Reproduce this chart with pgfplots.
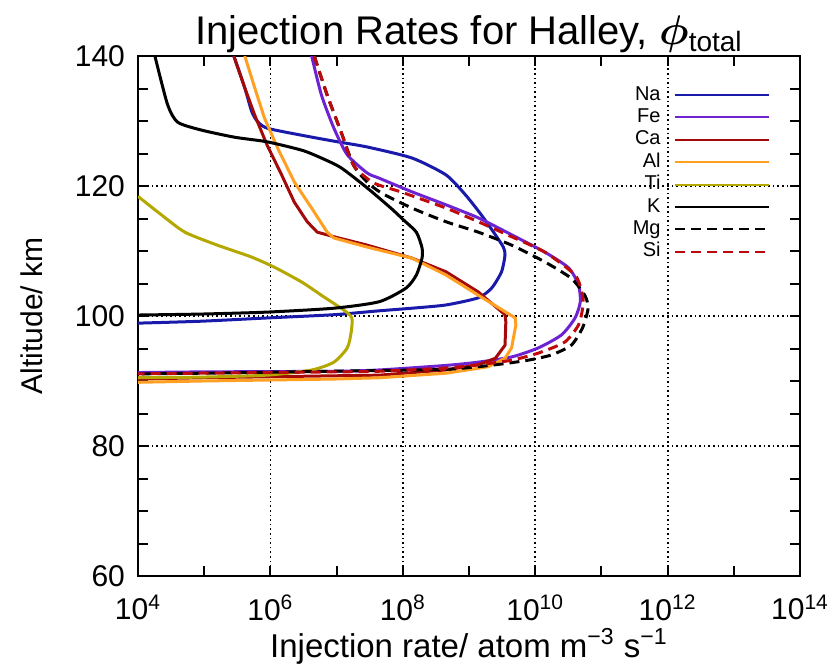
\documentclass[border=0pt]{standalone}
\usepackage{fontspec}
\setmainfont{Liberation Sans}
\usepackage{bm}
\usepackage{pgfplots}
\pgfplotsset{compat=1.18}

\definecolor{naBlue}{RGB}{25,25,170}
\definecolor{fePurple}{RGB}{110,35,210}
\definecolor{caRed}{RGB}{165,10,10}
\definecolor{alOrange}{RGB}{255,160,35}
\definecolor{tiOlive}{RGB}{180,168,0}
\definecolor{siRed}{RGB}{190,10,10}

\begin{document}
\begin{tikzpicture}
\path[use as bounding box] (-69pt,-47pt) rectangle (351pt,288pt);
\begin{axis}[
  at={(0,0)}, anchor=south west,
  scale only axis, width=331pt, height=260pt,
  xmode=log, xmin=1e4, xmax=1e14, ymin=60, ymax=140,
  xtick={1e4,1e6,1e8,1e10,1e12,1e14},
  xticklabels={10\textsuperscript{4},10\textsuperscript{6},10\textsuperscript{8},10\textsuperscript{10},10\textsuperscript{12},10\textsuperscript{14}},
  minor xtick={1e5,1e7,1e9,1e11,1e13},
  ytick={60,80,100,120,140},
  yticklabels={60,80,100,120,140},
  minor y tick num=3,
  xmajorgrids, ymajorgrids,
  grid style={black, line width=0.9pt, dash pattern=on 0.8pt off 1.5pt},
  axis line style={line width=1.2pt},
  tick style={black, line width=1pt},
  major tick length=5pt, minor tick length=5pt,
  tick label style={font=\fontsize{15}{18}\selectfont},
  yticklabel style={xshift=-3pt},
  xticklabel style={yshift=-6pt},
  legend plot pos=right,
  legend cell align=right,
  legend image code/.code={\draw[#1, line width=1pt] (0pt,0pt) -- (47pt,0pt);},
  legend style={draw=none, fill=none, at={(0.964,0.955)}, anchor=north east,
    font=\fontsize{10}{12}\selectfont, row sep=0pt,
    nodes={inner sep=0.6pt, text height=7.5pt, text depth=2.5pt},
    /tikz/every odd column/.append style={column sep=6pt}},
  every axis plot/.append style={line width=1.5pt, line join=round},
]
% Na
\addplot[naBlue, smooth, tension=0.4] coordinates {
 (2.8e5,140) (4.1e5,135.1) (5.2e5,131.5) (6.3e5,130.0) (8.9e5,128.9) (3.0e6,127.8)
 (9.1e6,126.9) (2.9e7,126.0) (1.38e8,124.3) (4.5e8,121.7) (8.9e8,118.6) (1.55e9,115.5)
 (2.5e9,112.5) (3.3e9,110.6) (3.5e9,109.4) (3.1e9,106.8) (2.2e9,104.3) (1.38e9,102.8)
 (4.5e8,101.7) (1.38e8,101.2) (4.4e7,100.8) (9.1e6,100.2) (8.9e5,99.7) (9.1e4,99.2) (1e4,98.9)
};
\addlegendentry{Na}
% Fe
\addplot[fePurple, smooth, tension=0.4] coordinates {
 (4.2e6,140) (5.9e6,134.0) (9.1e6,128.9) (1.45e7,124.8) (2.9e7,122.0) (4.4e7,121.2)
 (1.38e8,119.1) (4.5e8,117.1) (1.38e9,115.1) (4.4e9,112.5) (1.41e10,109.8) (3.2e10,107.4)
 (4.5e10,104.8) (4.8e10,102.2) (4.0e10,99.7) (2.5e10,97.1) (1.12e10,95.1) (4.4e9,93.7)
 (1.38e9,92.9) (4.5e8,92.4) (4.4e7,91.7) (9.1e6,91.5) (9.1e4,91.4) (1e4,91.3)
};
\addlegendentry{Fe}
% Ca
\addplot[caRed] coordinates {
 (2.8e5,140) (4.1e5,135.1) (5.8e5,130.9) (8.9e5,126.3) (1.48e6,121.7) (2.3e6,117.5)
 (3.6e6,114.5) (5.1e6,112.9) (9.1e6,112.2) (2.9e7,110.9) (1.38e8,108.9) (4.5e8,106.8)
 (1.38e9,103.7) (3.5e9,100.2) (3.6e9,99.1) (3.5e9,95.5) (2.5e9,93.5) (1.38e9,92.5)
 (4.5e8,91.7) (4.4e7,90.9) (9.1e6,90.8) (9.1e4,90.5) (1e4,90.3)
};
\addlegendentry{Ca}
% Al
\addplot[alOrange] coordinates {
 (4.1e5,140) (5.8e5,135.1) (8.1e5,130.5) (1.29e6,125.8) (2.3e6,120.6) (4.2e6,116.6)
 (7.2e6,112.9) (9.1e6,112.0) (2.9e7,110.6) (1.38e8,108.9) (4.5e8,106.3) (1.38e9,103.2)
 (5.0e9,99.7) (5.1e9,98.6) (4.4e9,95.1) (3.5e9,93.5) (1.95e9,92.2) (4.5e8,91.2)
 (4.4e7,90.5) (9.1e6,90.3) (9.1e4,90.0) (1e4,89.8)
};
\addlegendentry{Al}
% Ti
\addplot[tiOlive, smooth, tension=0.4] coordinates {
 (1e4,118.4) (2.3e4,115.5) (5.1e4,112.9) (1.58e5,110.9) (5.1e5,109.1) (1.15e6,107.5)
 (3.0e6,105.2) (6.5e6,102.9) (1.29e7,100.9) (1.7e7,99.7) (1.66e7,97.5) (1.45e7,95.1)
 (9.1e6,92.9) (4.2e6,91.7) (8.9e5,90.9) (9.1e4,90.6) (1e4,90.5)
};
\addlegendentry{Ti}
% K
\addplot[black, smooth, tension=0.4] coordinates {
 (1.8e4,140) (2.8e4,132.5) (4.0e4,129.8) (9.1e4,128.6) (2.9e5,127.5) (8.9e5,126.8)
 (3.0e6,125.5) (5.9e6,124.3) (1.17e7,122.8) (2.9e7,119.7) (6.6e7,116.6) (1.02e8,114.8)
 (1.6e8,112.9) (1.95e8,110.5) (1.95e8,108.9) (1.6e8,106.3) (1.12e8,104.3) (4.4e7,102.2)
 (9.1e6,101.2) (8.9e5,100.6) (9.1e4,100.3) (1e4,100.15)
};
\addlegendentry{K}
% Mg
\addplot[black, dash pattern=on 5pt off 3pt, smooth, tension=0.4] coordinates {
 (4.6e6,140) (7.2e6,134.0) (1.17e7,128.3) (1.8e7,123.2) (2.9e7,120.6) (4.8e7,118.9)
 (1.38e8,116.6) (4.5e8,114.5) (1.38e9,112.9) (4.4e9,110.9) (1.41e10,108.3) (3.5e10,105.8)
 (5.6e10,103.2) (6.3e10,101.2) (5.2e10,98.2) (3.5e10,95.5) (1.74e10,94.0) (7.8e9,93.2)
 (2.5e9,92.5) (4.5e8,91.8) (9.1e6,91.5) (9.1e4,91.2) (1e4,91.1)
};
\addlegendentry{Mg}
% Si
\addplot[siRed, dash pattern=on 5pt off 3pt, smooth, tension=0.4] coordinates {
 (4.6e6,140) (7.2e6,134.0) (1.17e7,128.3) (1.8e7,123.2) (3.6e7,120.5) (9.3e7,119.1)
 (4.5e8,116.6) (1.38e9,114.5) (4.4e9,112.2) (1.41e10,109.8) (4.0e10,106.3) (5.2e10,103.2)
 (5.2e10,101.2) (4.5e10,98.6) (2.8e10,96.0) (1.12e10,94.3) (4.4e9,93.2) (1.38e9,92.5)
 (4.5e8,92.0) (4.4e7,91.5) (9.1e6,91.4) (9.1e4,91.2) (1e4,91.1)
};
\addlegendentry{Si}
\end{axis}
\node[anchor=base, font=\fontsize{20}{24}\selectfont] at (165.5pt,265.5pt)
  {Injection Rates for Halley, {\boldmath$\phi$}\textsubscript{total}};
\node[anchor=base, font=\fontsize{16.5}{19}\selectfont] at (165.5pt,-40.5pt)
  {Injection rate/ atom m\textsuperscript{−3} s\textsuperscript{−1}};
\node[anchor=base, rotate=90, font=\fontsize{15}{18}\selectfont] at (-47.5pt,130pt)
  {Altitude/ km};
\end{tikzpicture}
\end{document}
